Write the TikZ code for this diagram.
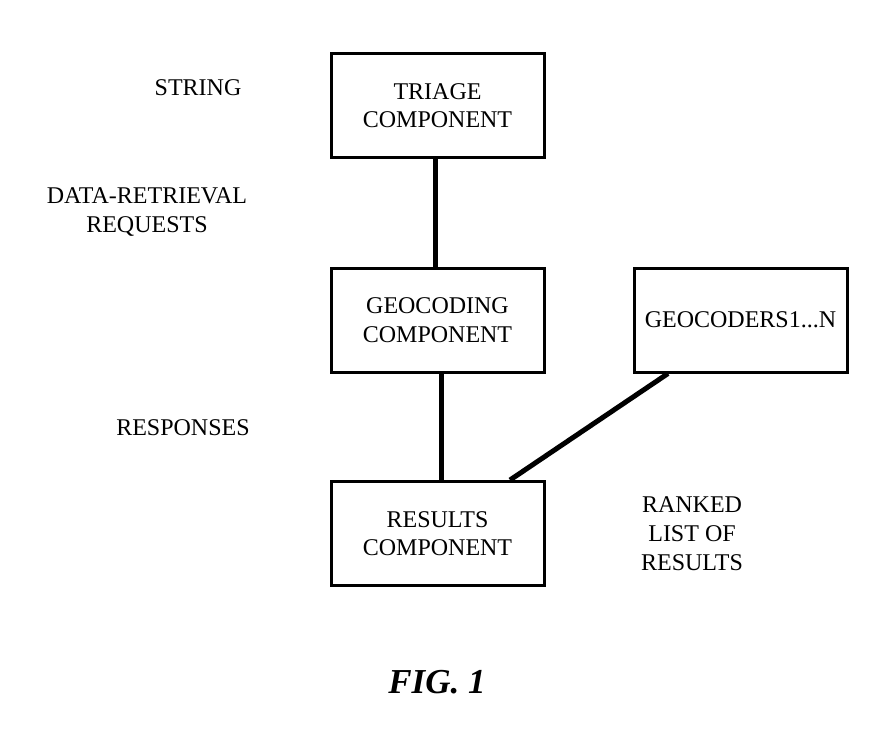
\documentclass[tikz,border=0pt]{standalone}
\usepackage{fontspec}
\setmainfont{Liberation Serif}
\begin{document}
\begin{tikzpicture}[x=1pt,y=-1pt,
  box/.style={draw,line width=3pt,minimum width=213pt,minimum height=104pt,inner sep=0pt,align=center,font=\fontsize{24}{28.5}\selectfont},
  lbl/.style={align=center,inner sep=0pt,font=\fontsize{24}{29}\selectfont},
  conn/.style={line width=5pt}]
\useasboundingbox[fill=white] (0,0) rectangle (891,737);
\node[box] (triage) at (437.5,105.5) {TRIAGE\\COMPONENT};
\node[box] (geo) at (437.5,320) {GEOCODING\\COMPONENT};
\node[box] (geos) at (740.5,320) {GEOCODERS1...N};
\node[box] (res) at (437.5,533.5) {RESULTS\\COMPONENT};
\node[lbl] (string) at (198,88) {STRING};
\node[lbl] (drr) at (147,212.5) {DATA-RETRIEVAL\\REQUESTS};
\node[lbl] (resp) at (183,428) {RESPONSES};
\node[lbl] (ranked) at (692,534) {RANKED\\LIST OF\\RESULTS};
\node[inner sep=0pt,font=\fontsize{35}{40}\selectfont\bfseries\itshape] (fig) at (437,682) {FIG. 1};
\coordinate (t1) at (triage.south -| 435,0);
\coordinate (g1) at (geo.north -| 435,0);
\draw[conn] (t1) -- (g1);
\coordinate (g2) at (geo.south -| 441,0);
\coordinate (r2) at (res.north -| 441,0);
\draw[conn] (g2) -- (r2);
\coordinate (gs) at (geos.south -| 668,0);
\coordinate (rs) at (res.north -| 510,0);
\draw[conn] (gs) -- (rs);
\end{tikzpicture}
\end{document}
